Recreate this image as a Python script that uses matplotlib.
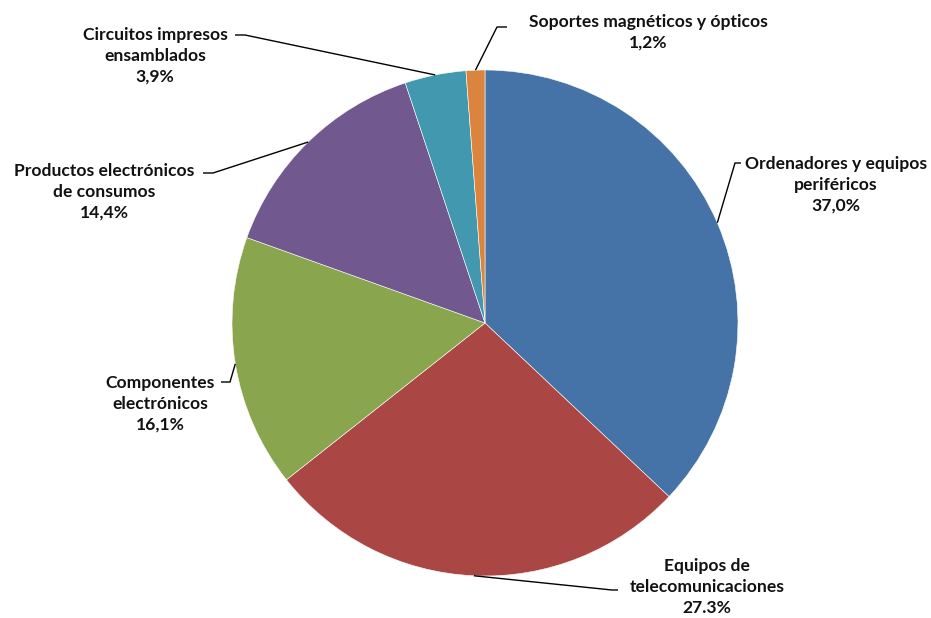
import matplotlib
matplotlib.use("Agg")
import matplotlib.pyplot as plt
import numpy as np

labels = ["Ordenadores y equipos\nperiféricos",
          "Equipos de\ntelecomunicaciones",
          "Componentes\nelectrónicos",
          "Productos electrónicos\nde consumos",
          "Circuitos impresos\nensamblados",
          "Soportes magnéticos y ópticos"]
values = [37.0, 27.3, 16.1, 14.4, 3.9, 1.2]
value_text = ["37,0%", "27.3%", "16,1%", "14,4%", "3,9%", "1,2%"]
colors = ["#4572A7", "#AA4643", "#89A54E", "#71588F", "#4198AF", "#DB843D"]

W, H = 931, 618
cx, cy, R = 485, 323, 253

def to_data(px, py):
    return ((px - cx) / R, (cy - py) / R)

# label centres and leader elbow points (pixels)
label_pos = [(836, 185), (707, 587), (160, 404), (104, 192), (155, 56), (648, 32)]
elbows = [((741, 163), (735, 163)),
          ((618, 590), (612, 590)),
          ((221, 382), (230, 382)),
          ((203, 173), (213, 173)),
          ((235, 35), (245, 35)),
          ((507, 27), (497, 27))]

fig = plt.figure(figsize=(W / 100, H / 100), dpi=100)
ax = fig.add_axes([0, 0, 1, 1])
wedges, _ = ax.pie(values, colors=colors, startangle=90, counterclock=False,
                   radius=1, center=(0, 0),
                   wedgeprops=dict(edgecolor="white", linewidth=0.4))
ax.set_xlim(-cx / R, (W - cx) / R)
ax.set_ylim((cy - H) / R, cy / R)
ax.set_aspect("equal")
ax.axis("off")

for w, lab, vt, pos, (e0, e1) in zip(wedges, labels, value_text, label_pos, elbows):
    ang = np.deg2rad((w.theta1 + w.theta2) / 2)
    tip = (np.cos(ang), np.sin(ang))
    x, y = to_data(*pos)
    ax.text(x, y, lab + "\n" + vt, ha="center", va="center",
            fontsize=12.6, fontweight="bold", family="Lato",
            linespacing=1.38, color="#111111")
    p0 = to_data(*e0)
    p1 = to_data(*e1)
    ax.plot([p0[0], p1[0], tip[0]], [p0[1], p1[1], tip[1]],
            color="black", lw=1.0, solid_capstyle="butt")

fig.savefig("out.png", dpi=100)
